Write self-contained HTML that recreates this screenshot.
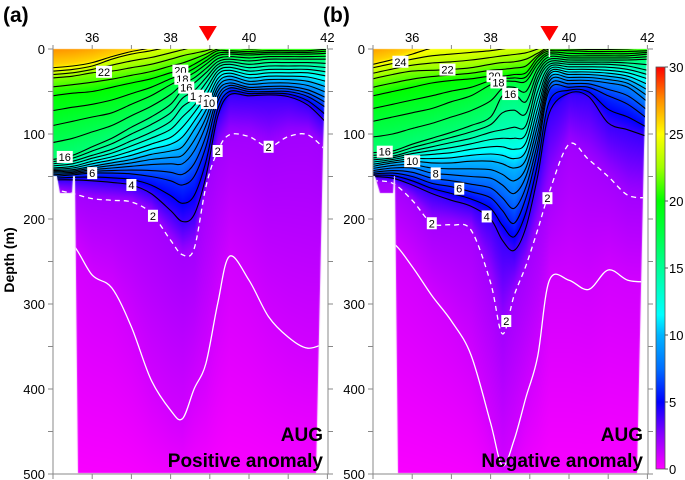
<!DOCTYPE html>
<html><head><meta charset="utf-8">
<style>
html,body{margin:0;padding:0;background:#fff;}
#root{position:relative;width:685px;height:480px;overflow:hidden;font-family:"Liberation Sans",Arial,sans-serif;}
canvas{position:absolute;left:0;top:0;}
svg{position:absolute;left:0;top:0;}
</style></head>
<body>
<div id="root">
<canvas id="cv" width="685" height="480"></canvas>
<svg id="sv" width="685" height="480"></svg>
</div>
<script>
// ---------- data ----------
const stationLons=[35,35.5,36,36.5,37,37.5,38,38.3,38.6,38.9,39.2,39.5,40,40.5,41,41.5,42];
const isoLevels=[26,24,22,20,18,16,14,12,10,8,6,4,2,1,0];
// Panel (a) Positive anomaly: isotherm depths (m)
const a26=[18,16,12,6,0,-5,-15,-20,-25,-25,-25,-25,-25,-25,-25,-25,-25];
const a24=[26,24,20,12,6,2,-3,-6,-10,-12,-15,-15,-15,-15,-15,-15,-15];
const a22=[34,32,28,26,22,18,12,8,5,2,-2,-5,-3,-4,-5,-6,-8];
const a20=[55,52,50,45,40,35,28,25,18,10,2,2,3,2,2,2,0];
const a18=[90,85,80,75,65,55,42,35,28,18,8,6,7,6,6,6,5];
const a16=[130,125,115,105,92,80,65,48,40,28,15,12,14,12,12,12,12];
const a14=[135,132,125,118,108,98,85,68,58,40,22,18,22,20,20,20,22];
const a12=[140,138,132,127,120,112,104,92,75,55,30,25,30,28,28,28,32];
const a10=[143,142,138,134,130,124,120,115,95,72,40,32,38,36,36,38,45];
const a8=[146,145,142,140,138,136,135,135,120,90,50,40,45,44,44,48,58];
const a6=[150,148,146,146,147,150,155,160,150,115,62,46,50,50,50,56,70];
const a4=[154,154,155,157,160,170,190,203,195,150,80,54,55,54,56,66,88];
const a2=[165,170,176,178,180,193,225,242,235,162,120,101,103,115,103,101,121];
const a1=[225,230,266,281,327,389,425,435,400,370,300,244,272,315,339,352,345];
const a0=[540,540,540,540,540,540,540,540,540,540,540,540,540,540,540,540,540];
// Panel (b) Negative anomaly
const b26=[14,8,0,-10,-15,-20,-20,-20,-20,-20,-20,-25,-25,-25,-25,-25,-25];
const b24=[22,17,12,8,6,4,2,0,-2,-3,-5,-10,-10,-10,-10,-10,-10];
const b22=[35,30,26,25,24,22,18,16,15,12,5,-2,-2,-2,-2,-3,-5];
const b20=[55,50,45,40,37,35,32,32,30,28,10,2,2,3,3,3,2];
const b18=[85,80,75,70,62,55,42,38,38,38,18,6,8,8,8,8,6];
const b16=[122,120,112,105,98,90,80,55,52,62,28,12,13,13,13,13,12];
const b14=[128,126,120,115,110,105,98,95,92,90,40,18,18,18,18,20,25];
const b12=[133,130,126,124,122,118,115,115,118,110,60,24,24,24,25,28,35];
const b10=[138,134,132,134,134,132,132,135,140,130,80,30,30,30,32,36,48];
const b8=[143,140,140,146,148,150,152,160,170,150,100,38,37,37,40,45,62];
const b6=[147,146,150,158,162,168,175,190,205,175,120,48,45,45,55,65,82];
const b4=[150,152,160,170,178,185,200,225,237,210,150,75,52,56,87,95,103];
const b2=[155,158,178,205,207,213,275,335,290,255,213,168,112,130,150,172,175];
const b1=[225,228,256,290,320,360,440,490,460,410,362,272,272,283,260,272,274];
const b0=[540,540,540,540,540,540,540,540,540,540,540,540,540,540,540,540,540];
// contour labels [lon, level]
const labelsA=[[36.3,22],[38.25,20],[38.3,18],[38.4,16],[38.65,14],[38.85,12],[38.98,10],[35.3,16],[36.0,6],[37.0,4],[37.55,2],[39.2,2],[40.5,2]];
const labelsB=[[35.7,24],[36.9,22],[38.1,20],[38.2,18],[38.5,16],[35.3,16],[36.0,10],[36.6,8],[37.2,6],[37.9,4],[36.5,2],[39.45,2],[38.4,2]];
const lonTicks=[36,38,40,42];
const depthTicks=[0,100,200,300,400,500];
const cbTicks=[0,5,10,15,20,25,30];

const panels=[
 {x0:53,name:'a',depths:[a26,a24,a22,a20,a18,a16,a14,a12,a10,a8,a6,a4,a2,a1,a0],labels:labelsA,tri:38.95,title:'Positive anomaly',
  poly:[[53,49],[326,49],[323,150],[316,473],[78,473],[75,176],[73,176],[72,193],[60,193],[57,176],[53,176]]},
 {x0:373,name:'b',depths:[b26,b24,b22,b20,b18,b16,b14,b12,b10,b8,b6,b4,b2,b1,b0],labels:labelsB,tri:39.5,title:'Negative anomaly',
  poly:[[373,49],[647,49],[644,150],[637,473],[398,473],[395,176],[394,176],[393,193],[380,193],[375,176],[373,176]]}
];
const Y0=49, YS=0.85, XS=39.2;
function py(z){return Y0+z*YS;}
function interp(arr,lon){
  if(lon<=stationLons[0])return arr[0];
  for(let i=0;i<stationLons.length-1;i++){
    if(lon<=stationLons[i+1]){const t=(lon-stationLons[i])/(stationLons[i+1]-stationLons[i]);return arr[i]+(arr[i+1]-arr[i])*t;}
  }
  return arr[arr.length-1];
}
const cmapT=[0,2.5,5,7.5,10,11.5,15,17.5,20,22.5,25,27.5,30];
const cmapC=[[255,0,255],[140,0,255],[0,0,255],[0,110,255],[0,180,255],[0,255,255],[0,255,150],[0,255,70],[0,255,0],[160,255,0],[255,255,0],[255,145,0],[255,0,0]];
function color(T){
  T=Math.max(0,Math.min(30,T));
  for(let i=0;i<cmapT.length-1;i++){
    if(T<=cmapT[i+1]){const t=(T-cmapT[i])/(cmapT[i+1]-cmapT[i]);const a=cmapC[i],b=cmapC[i+1];
      return [a[0]+(b[0]-a[0])*t,a[1]+(b[1]-a[1])*t,a[2]+(b[2]-a[2])*t];}
  }
  return cmapC[cmapC.length-1];
}
function tempAt(d,z){
  if(z<d[0])return isoLevels[0]+(d[0]-z)*0.08;
  for(let i=0;i<d.length-1;i++){
    if(z<d[i+1]){const span=d[i+1]-d[i];if(span<=0)continue;return isoLevels[i]+(isoLevels[i+1]-isoLevels[i])*(z-d[i])/span;}
  }
  return isoLevels[isoLevels.length-1];
}
const cv=document.getElementById('cv');const ctx=cv.getContext('2d');
const NS='http://www.w3.org/2000/svg';const sv=document.getElementById('sv');
function mk(tag,attrs,parent){const e=document.createElementNS(NS,tag);for(const k in attrs)e.setAttribute(k,attrs[k]);(parent||sv).appendChild(e);return e;}
function smoothPath(pts){
  let d='M'+pts[0][0].toFixed(1)+','+pts[0][1].toFixed(1);
  for(let i=0;i<pts.length-1;i++){
    const p0=pts[Math.max(0,i-1)],p1=pts[i],p2=pts[i+1],p3=pts[Math.min(pts.length-1,i+2)];
    const c1=[p1[0]+(p2[0]-p0[0])/6,p1[1]+(p2[1]-p0[1])/6];
    const c2=[p2[0]-(p3[0]-p1[0])/6,p2[1]-(p3[1]-p1[1])/6];
    d+=` C${c1[0].toFixed(1)},${c1[1].toFixed(1)} ${c2[0].toFixed(1)},${c2[1].toFixed(1)} ${p2[0].toFixed(1)},${p2[1].toFixed(1)}`;
  }
  return d;
}

panels.forEach(p=>{
  const w=276,h=426;
  const img=ctx.createImageData(w,h);
  for(let c=0;c<w;c++){
    const lon=35+c/XS;
    const d=p.depths.map(arr=>interp(arr,lon));
    for(let r=0;r<h;r++){
      const z=r/YS;const col=color(tempAt(d,z));const k=(r*w+c)*4;
      img.data[k]=col[0];img.data[k+1]=col[1];img.data[k+2]=col[2];img.data[k+3]=255;
    }
  }
  const tmp=document.createElement('canvas');tmp.width=w;tmp.height=h;const tc=tmp.getContext('2d');
  tc.putImageData(img,0,0);
  tc.globalCompositeOperation='destination-in';
  tc.beginPath();p.poly.forEach((q,i)=>{const X=q[0]-p.x0,Y=q[1]-Y0;i?tc.lineTo(X,Y):tc.moveTo(X,Y);});tc.closePath();tc.fill();
  ctx.drawImage(tmp,p.x0,Y0);

  const px=lon=>p.x0+(lon-35)*XS;
  const g=mk('g',{});
  
  
  const cp=mk('clipPath',{id:'clip'+p.name},g);
  mk('polygon',{points:p.poly.map(q=>q.join(',')).join(' ')},cp);
  const lines=mk('g',{'clip-path':'url(#clip'+p.name+')'},g);
  
  
  function drawLine(arr,stroke,dash,wd,nm){
    const pts=stationLons.map((lon,i)=>[px(lon),py(arr[i])]);
    const e=mk('path',{d:smoothPath(pts),fill:'none',stroke:stroke,'stroke-width':wd,'stroke-dasharray':dash||'none','stroke-linejoin':'round'},lines);
    
    
  }
  for(let i=0;i<=11;i++){
    const lev=isoLevels[i];
    if(lev<=24) drawLine(p.depths[i],'#000',null,1.1,'isotherm-'+lev);
    if(i<11){const mid=p.depths[i].map((v,j)=>(v+p.depths[i+1][j])/2);drawLine(mid,'#000',null,1.1,'isotherm-'+(lev-1));}
  }
  drawLine(p.depths[12],'#fff','5,4',1.3,'isotherm-2-dashed');
  drawLine(p.depths[13],'#fff',null,1.3,'isotherm-1');
  p.labels.forEach(l=>{
    const idx=isoLevels.indexOf(l[1]);const z=interp(p.depths[idx],l[0]);
    const X=px(l[0]),Y=py(z);const wdt=String(l[1]).length*6+4;
    const lb=mk('g',{},lines);
    
    
    mk('rect',{x:X-wdt/2,y:Y-6,width:wdt,height:12,fill:'#fff'},lb);
    const t=mk('text',{x:X,y:Y+4,'font-size':11,'text-anchor':'middle',fill:'#000'},lb);t.textContent=l[1];
  });
  const xl=p.x0, xr=p.x0+275, yb=474;
  const fr=mk('path',{d:`M${xl},${Y0} L${xl},${yb} L${xr},${yb} L${xr},${Y0}`,fill:'none',stroke:'#888','stroke-width':1},g);
  
  
  for(let z=0;z<=500;z+=50){
    mk('line',{x1:xl-5,x2:xl,y1:py(z),y2:py(z),stroke:'#888'},g);
    mk('line',{x1:xr,x2:xr+5,y1:py(z),y2:py(z),stroke:'#888'},g);
  }
  depthTicks.forEach(z=>{
    const t=mk('text',{x:xl-8,y:py(z)+5,'font-size':13,'text-anchor':'end',fill:'#000'},g);
    
    
    t.textContent=z;
  });
  for(let lon=35;lon<=42;lon++){
    mk('line',{x1:px(lon),x2:px(lon),y1:yb,y2:yb+5,stroke:'#888'},g);
    mk('line',{x1:px(lon),x2:px(lon),y1:Y0-4,y2:Y0,stroke:'#888'},g);
  }
  lonTicks.forEach(lon=>{
    const t=mk('text',{x:px(lon),y:42,'font-size':13,'text-anchor':'middle',fill:'#000'},g);
    
    
    t.textContent=lon;
  });
  const tx=px(p.tri);
  const tri=mk('polygon',{points:`${tx-9},26 ${tx+9},26 ${tx},41`,fill:'#ff0000'},g);
  
  
  mk('line',{x1:px(39.5),x2:px(39.5),y1:Y0,y2:Y0+8,stroke:'#fff','stroke-width':1.5},g);
  const pl=mk('text',{x:p.x0-50,y:22,'font-size':21,'font-weight':'bold',fill:'#000'},g);
  
  
  pl.textContent='('+p.name+')';
  const t1=mk('text',{x:xr-5,y:441,'font-size':19,'font-weight':'bold','text-anchor':'end',fill:'#000'},g);
  
  
  t1.textContent='AUG';
  const t2=mk('text',{x:xr-5,y:467,'font-size':19,'font-weight':'bold','text-anchor':'end',fill:'#000'},g);
  
  
  t2.textContent=p.title;
});
const yt=mk('text',{x:0,y:0,'font-size':14,'font-weight':'bold','text-anchor':'middle',transform:'translate(14,260) rotate(-90)',fill:'#000'});


yt.textContent='Depth (m)';
const cbX=656,cbW=9,cbTop=67,cbBot=469;
const defs=mk('defs',{});
const lg=mk('linearGradient',{id:'cbg',x1:0,y1:1,x2:0,y2:0},defs);
cmapT.forEach((t,i)=>{const c=cmapC[i];mk('stop',{offset:t/30,'stop-color':`rgb(${c[0]},${c[1]},${c[2]})`},lg);});
const cb=mk('rect',{x:cbX,y:cbTop,width:cbW,height:cbBot-cbTop,fill:'url(#cbg)',stroke:'#555','stroke-width':0.8});


cbTicks.forEach(v=>{
  const y=cbBot-(cbBot-cbTop)*v/30;
  mk('line',{x1:cbX+cbW,x2:cbX+cbW+3,y1:y,y2:y,stroke:'#555'});
  const t=mk('text',{x:cbX+cbW+4,y:y+5,'font-size':13,fill:'#000'});
  
  
  t.textContent=v;
});
</script>
</body></html>
